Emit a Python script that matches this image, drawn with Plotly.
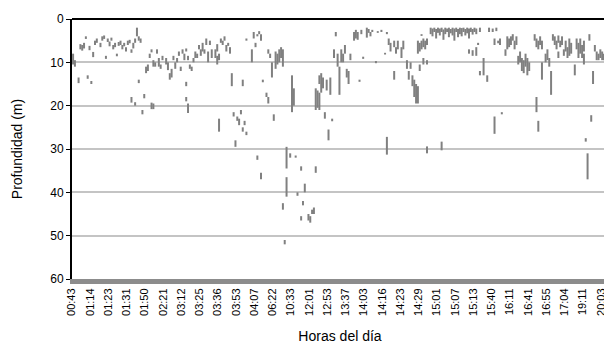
import plotly.graph_objects as go

# etiquetas del eje x (hora de cada registro mostrado)
HORAS = [
    "00:43", "01:14", "01:23", "01:31", "01:50", "02:21", "03:12", "03:25",
    "03:36", "03:53", "04:07", "06:22", "10:33", "12:01", "12:53", "13:37",
    "14:03", "14:16", "14:23", "14:29", "15:01", "15:07", "15:13", "15:40",
    "16:11", "16:41", "16:55", "17:04", "19:11", "20:03",
]
PASO_ETIQUETA = 10  # un rotulo cada 10 registros

# cada registro es un tramo vertical: profundidad superior -> inferior (m)
REGISTRO = [
    -1, 0, 2, 3, 4, 5, 6, 7, 8, 9, 10, 11, 12, 14, 15, 16, 17, 18, 19, 20,
    21, 22, 23, 24, 25, 26, 27, 28, 29, 30, 31, 31, 32, 33, 33, 34, 35, 35, 36, 37,
    38, 39, 40,
    41, 42, 42, 43, 43, 44, 45, 46, 47, 48, 50, 51, 52, 53, 54, 55, 56, 57, 58, 59,
    60, 61, 61, 61, 62, 62, 63, 64, 65, 66, 67, 68, 69, 70, 71, 72, 73, 74, 75, 77,
    78, 78, 79, 79, 80, 81, 82, 83, 84, 85,
    86, 87, 88, 89, 90, 91, 92, 92, 93, 94, 94, 97, 98, 99, 100, 100, 101, 102, 102, 103,
    105, 106, 106, 107, 108, 109, 110, 111, 112, 113, 114, 114, 115, 116, 116, 118, 119, 120, 121, 122,
    124, 124, 125, 126, 128, 129, 130,
    131, 132, 132, 133, 134, 134, 135, 136, 137, 138, 139, 140, 141, 142, 143, 144, 145, 146, 147, 148,
    149, 150, 151, 153, 154, 155, 156, 157, 158, 160, 161, 162, 163, 165, 166, 168, 170, 171, 171, 172,
    173, 175, 175,
    176, 177, 179, 180, 182, 183, 184, 185, 186, 187, 188, 188, 189, 189, 190, 190, 191, 191, 192, 193,
    193, 193, 195, 196, 197, 198, 199, 200, 201, 201, 202, 203, 204, 205, 206, 207, 208, 209, 210, 211,
    212, 213, 214, 215, 216, 216, 217, 218, 218, 219, 220, 220, 221, 222, 222,
    224, 226, 227, 229, 230, 230, 231, 232, 233, 234, 236, 237, 238, 239, 240, 241, 242, 243, 244, 245,
    246, 247, 248, 249, 252, 253, 253, 254, 254, 255, 256, 256, 258, 259, 260, 261, 262, 263, 264, 265,
    265, 266, 267, 268, 269, 270, 271, 272, 274, 275, 276, 277, 278, 279, 279, 280, 281, 282, 283, 284,
    285, 286, 287, 288, 289, 290, 291,
]
PROF_SUP = [
    8, 9.5, 13.5, 5.8, 6, 5.5, 4, 13, 6.2, 14.3, 7.6, 5, 4.5, 5.5, 4, 3.8, 8.5, 4.5, 5.2, 4.3,
    6, 5.5, 8, 5.3, 5, 6, 5.5, 6.5, 5, 4.8, 18, 7, 5.5, 19.2, 4.5, 2, 14, 4, 4.5, 21,
    17.3, 11, 10.5,
    8, 19.3, 7, 19.5, 9.5, 10, 7, 9, 10.5, 8.5, 9, 10, 12.5, 11.5, 8.5, 10, 9, 7.5, 11, 7,
    8, 14.5, 18, 6.8, 19.5, 8.5, 10.5, 11, 9, 7.5, 8, 6, 7, 5.5, 7, 4.5, 7.5, 5, 7, 7,
    5.8, 8.5, 23, 8, 4.5, 5, 4, 6, 5.5, 6.5,
    12.5, 21.5, 28, 22.5, 23, 21, 14, 25, 23.5, 4.5, 26, 7, 3, 5.5, 3.5, 31.5, 2.8, 3.5, 35.5, 14,
    17, 18, 7, 8, 10, 22, 7.5, 8, 7, 6.5, 7, 42.5, 51, 29.5, 36.5, 31, 13, 16, 31.5, 40,
    34, 45.5, 42, 38, 45, 45.5, 44,
    43.5, 34, 16, 16.5, 17, 13, 12.5, 13.5, 21.5, 14, 25.5, 13.5, 23, 7, 3, 8, 11, 7, 8, 6,
    11.5, 12, 8, 3, 2.5, 3, 14, 2.5, 8.7, 2, 2.3, 3, 2.5, 9.7, 2.8, 2.5, 7.8, 27.2, 3, 4.5,
    5.5, 12, 5,
    6.5, 5, 6.5, 5, 9.5, 12, 10, 13, 14, 15, 15.5, 5, 10.5, 5.5, 5, 3.5, 4.5, 9, 5, 9.5,
    29.4, 4.5, 2, 2.2, 2, 2.3, 2, 2.2, 28.3, 2, 2.4, 2, 2.2, 2, 2.3, 2, 2.2, 2, 2.3, 2,
    2.1, 2, 2.3, 2, 7, 2.2, 2, 7.2, 2.3, 2, 6.5, 2.2, 5.5, 12, 2,
    9, 13, 2, 2.2, 22.5, 4.5, 2, 5, 4.5, 21.5, 7, 4, 4.5, 4, 3.5, 5, 4, 8.5, 7.5, 9,
    9.5, 8, 9, 10, 3.5, 18, 4.5, 23.5, 5, 4, 10, 5, 8, 7, 9, 12, 3.5, 4, 5, 7.5,
    3.8, 5, 4, 7, 5, 6.5, 4.5, 5.5, 10.5, 4.5, 5.5, 4.5, 6, 8, 5, 27.5, 31, 3.5, 22.2, 12,
    6, 7.5, 8, 7, 7.5, 8, 7.5,
]
PROF_INF = [
    10.5, 11, 14.8, 7, 7.3, 6.8, 4.6, 13.8, 7.2, 15, 8.8, 6, 5.5, 6.5, 5, 4.6, 9.2, 5.3, 6.3, 5,
    7, 6.5, 8.6, 6.2, 6, 7, 6.3, 7.5, 6, 5.6, 19.3, 7.8, 6.8, 20, 5.5, 4, 14.8, 5, 5.5, 22,
    18.3, 12.5, 12,
    9, 20.8, 7.7, 20.8, 11, 11, 8, 11, 11.5, 9.5, 10.5, 11.8, 14, 13.5, 9.5, 11.5, 10, 8.5, 12, 8,
    9.5, 15.5, 19, 7.5, 21.7, 9.5, 11.5, 12, 10, 9, 9, 7, 8.5, 7.5, 8, 6, 10, 6, 9, 9,
    7.5, 10.5, 26, 9.5, 5.5, 6, 5, 7.5, 6.2, 8,
    15.5, 22.5, 29.5, 23.5, 24.5, 22, 15.5, 26, 24.5, 5, 26.8, 10, 4.5, 6.5, 4, 32.5, 3.5, 5, 37, 14.6,
    18, 19.5, 8, 9, 13.5, 23.5, 11.5, 10.5, 10, 9, 11, 44, 52, 34.5, 41, 32, 21.5, 20, 32, 40.8,
    35, 46.5, 43, 40, 46.5, 47, 45,
    45, 35.5, 21, 20.5, 21, 15, 17, 16, 23, 16.5, 28, 17.5, 23.6, 9, 4, 11, 17.5, 10, 10, 8,
    13.5, 15, 9.5, 5, 4.5, 4.8, 14.5, 3.5, 9.2, 4.3, 3.2, 4, 3, 10.2, 3.2, 3, 8.2, 31.3, 3.5, 6,
    7.5, 14, 6.5,
    8, 7, 9, 7, 11.5, 14, 11.5, 15.5, 18, 19.5, 19.5, 8, 12, 7.5, 7, 3.9, 6.5, 10.5, 7, 10.5,
    31, 6, 3.5, 4, 3, 4.5, 3.2, 3.8, 30.3, 3, 4.8, 3.5, 3, 4.2, 3.3, 3.8, 5, 3, 4.2, 3.5,
    4, 3, 3.8, 3.3, 8, 4.5, 3, 8.5, 3.6, 3, 8.5, 3.5, 6, 13, 3,
    13, 14.5, 3, 3, 26.5, 6, 2.8, 5.6, 6, 22, 8.5, 7, 6.5, 6, 5, 7, 6, 10.5, 10, 12,
    12.5, 11, 13, 12, 5, 21.5, 6.5, 26, 7, 6, 14, 7, 10, 9.5, 11, 17.5, 5, 6, 7, 9,
    5.5, 6.5, 6, 8.5, 7.5, 9, 8.5, 8, 13, 7, 9, 8, 9, 10.5, 7.5, 28.3, 37, 5, 23.7, 15,
    7.5, 9.5, 9.5, 9, 9.5, 9.5, 9,
]
assert len(REGISTRO) == len(PROF_SUP) == len(PROF_INF)

FUENTE = "Liberation Sans, Arial, sans-serif"
GRIS = "#808080"

xs, ys = [], []
for x, sup, inf in zip(REGISTRO, PROF_SUP, PROF_INF):
    xs += [x, x, None]
    ys += [sup, inf, None]

fig = go.Figure()
fig.add_trace(
    go.Scatter(
        x=xs,
        y=ys,
        mode="lines",
        line=dict(color=GRIS, width=2),
        showlegend=False,
        hoverinfo="skip",
    )
)

# marco superior y derecho
fig.add_shape(type="line", xref="paper", yref="paper", x0=0, x1=1, y0=1, y1=1,
              line=dict(color="black", width=2))
fig.add_shape(type="line", xref="paper", yref="paper", x0=1, x1=1, y0=0, y1=1,
              line=dict(color="black", width=1))

fig.update_xaxes(
    range=[-1.6, 292.2],
    tickvals=[i * PASO_ETIQUETA for i in range(len(HORAS))],
    ticktext=HORAS,
    tickangle=-90,
    ticklabelshift=-3,
    tickfont=dict(family=FUENTE, size=11, color="black"),
    showgrid=False,
    zeroline=False,
    showline=True,
    linecolor="#8c8c8c",
    linewidth=5,
    ticks="",
    title=dict(text="Horas del día", font=dict(family=FUENTE, size=14, color="black"), standoff=18),
)
fig.update_yaxes(
    range=[60, 0],
    tickvals=[0, 10, 20, 30, 40, 50, 60],
    tickfont=dict(family=FUENTE, size=12, color="black"),
    showgrid=True,
    gridcolor="#c4c4c4",
    gridwidth=1.5,
    zeroline=False,
    showline=True,
    linecolor="black",
    linewidth=2,
    ticks="outside",
    ticklen=4,
    tickcolor="black",
    title=dict(text="Profundidad (m)", font=dict(family=FUENTE, size=14, color="black"), standoff=24),
)
# la pagina deja 8 px de margen alrededor de la figura
fig.update_layout(
    width=604,
    height=343,
    margin=dict(l=64, r=4, t=8, b=72),
    plot_bgcolor="white",
    paper_bgcolor="white",
)

fig.write_html("out.html")
